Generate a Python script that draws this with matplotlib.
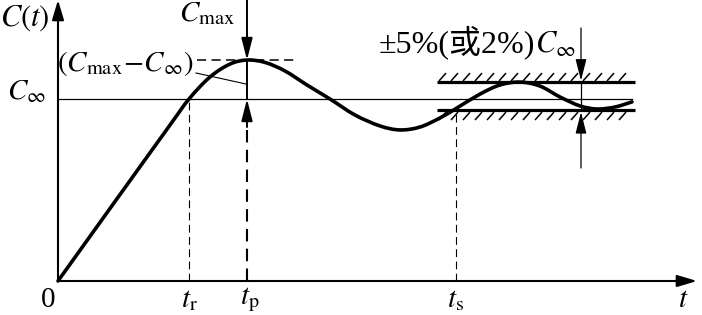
import numpy as np
import matplotlib
matplotlib.use("Agg")
import matplotlib.pyplot as plt
from matplotlib.collections import LineCollection
from matplotlib.path import Path
from matplotlib.patches import PathPatch

plt.rcParams['mathtext.fontset'] = 'stix'
plt.rcParams['font.family'] = ['Liberation Serif', 'Noto Sans CJK SC', 'DejaVu Sans']

# ---- data (t in drawing units, C normalised so that C_inf = 1) ----
t = [0, 56, 112, 131, 152, 172, 189, 207, 227, 249, 272, 297, 322, 342, 362,
     382, 399, 422, 442, 462, 482, 502, 522, 539, 557, 574]
C = [0.000, 0.429, 0.857, 1.000, 1.121, 1.192, 1.214, 1.201, 1.154, 1.077,
     1.000, 0.912, 0.852, 0.830, 0.846, 0.896, 0.951, 1.027, 1.077, 1.093,
     1.071, 1.011, 0.962, 0.945, 0.956, 0.984]
t_r = 131
t_p = 189
t_s = 398
C_inf = 1.0
C_max = 1.214
band_hi = 1.093
band_lo = 0.940
band_t = [379, 577]
tick_labels = ['0', r'$t_{\mathrm{r}}$', r'$t_{\mathrm{p}}$', r'$t_{\mathrm{s}}$', r'$t$']

W, H = 702, 315
fig = plt.figure(figsize=(W / 100, H / 100), dpi=100)
ax = fig.add_axes([0, 0, 1, 1])
ax.set_xlim(-58, 644)
ax.set_ylim((281 - 315) / 182, 281 / 182)
ax.axis('off')

def P(x, y):
    """layout helper: pixel position -> figure fraction"""
    return (x / W, 1 - y / H)

FS = 21
k = 'black'

# axes with arrows
ax.annotate('', xy=(0, ax.get_ylim()[1]), xytext=(0, 0),
            arrowprops=dict(arrowstyle='-|>,head_length=1.0,head_width=0.3',
                            lw=1.5, color=k, shrinkA=0, shrinkB=0, mutation_scale=12))
ax.annotate('', xy=(639, 0), xytext=(0, 0),
            arrowprops=dict(arrowstyle='-|>,head_length=1.0,head_width=0.3',
                            lw=1.5, color=k, shrinkA=0, shrinkB=0, mutation_scale=12))

# C_inf reference line
ax.plot([0, t[-1]], [C_inf, C_inf], color=k, lw=0.9)

# response curve: smooth cubic path through the read points (Catmull-Rom)
pts = np.column_stack([t, C]).astype(float)
ext = np.vstack([pts[0], pts, pts[-1]])
verts = [tuple(pts[0])]
codes = [Path.MOVETO]
for i in range(len(pts) - 1):
    p0, p1, p2, p3 = ext[i], ext[i + 1], ext[i + 2], ext[i + 3]
    c1 = p1 + (p2 - p0) / 6.0
    c2 = p2 - (p3 - p1) / 6.0
    verts += [tuple(c1), tuple(c2), tuple(p2)]
    codes += [Path.CURVE4] * 3
ax.add_patch(PathPatch(Path(verts, codes), fill=False, edgecolor=k, lw=2.6,
                       joinstyle='round', capstyle='round'))

# t_r dashed
ax.plot([t_r, t_r], [0, C_inf], color=k, lw=0.8, dashes=(7, 4))
# t_s dashed
ax.plot([t_s, t_s], [0, band_lo], color=k, lw=0.8, dashes=(7, 4))

# t_p marks
top = ax.get_ylim()[1]
arr = dict(arrowstyle='-|>,head_length=1.1,head_width=0.28', lw=1.4, color=k,
           shrinkA=0, shrinkB=0, mutation_scale=12)
ax.annotate('', xy=(t_p, C_max), xytext=(t_p, top), arrowprops=arr)
ax.plot([t_p, t_p], [C_max, C_inf], color=k, lw=1.4)
low_p = 0.846
ax.annotate('', xy=(t_p, C_inf), xytext=(t_p, low_p), arrowprops=arr)
ax.plot([t_p, t_p], [0, low_p], color=k, lw=1.5, dashes=(6, 3.5))

# C_max dashed horizontal
ax.plot([139, 239], [C_max, C_max], color=k, lw=1.1, dashes=(6, 3.5))
# leader line for (Cmax - Cinf)
ax.plot([138, 188], [(281 - 73) / 182, (281 - 84) / 182], color=k, lw=0.8)

# tolerance band
ax.plot(band_t, [band_hi, band_hi], color=k, lw=2.3, solid_capstyle='butt')
ax.plot(band_t, [band_lo, band_lo], color=k, lw=2.3, solid_capstyle='butt')
hh = 9 / 182
dx = 7
segs = []
for x0 in np.arange(band_t[0] + 2, band_t[1] - dx + 1, 12):
    segs.append([(x0, band_hi + 0.006), (x0 + dx, band_hi + hh)])
    segs.append([(x0, band_lo - hh - 0.006), (x0 + dx, band_lo - 0.012)])
ax.add_collection(LineCollection(segs, colors=k, linewidths=1.1))

# band width arrows
xa = 523
arr2 = dict(arrowstyle='-|>,head_length=1.1,head_width=0.28', lw=0.9, color=k,
            shrinkA=0, shrinkB=0, mutation_scale=12)
ax.annotate('', xy=(xa, band_hi + 0.008), xytext=(xa, (281 - 28) / 182), arrowprops=arr2)
ax.plot([xa, xa], [band_hi, band_lo], color=k, lw=0.9)
ax.annotate('', xy=(xa, band_lo - 0.012), xytext=(xa, (281 - 168) / 182), arrowprops=arr2)

# texts
fig.text(*P(0, 18), r'$C(t)$', fontsize=FS + 1, ha='left', va='center')
fig.text(*P(179, 14), r'$C_{\mathrm{max}}$', fontsize=FS, ha='left', va='center')
fig.text(*P(7, 92), r'$C_{\infty}$', fontsize=FS, ha='left', va='center')
fig.text(*P(57, 63), r'$(C_{\mathrm{max}}\!-\!C_{\infty})$', fontsize=FS, ha='left', va='center')
fig.text(*P(535, 42), '±5%(或2%)', fontsize=FS + 2, ha='right', va='center',
         family=['Liberation Serif', 'Noto Sans CJK SC'])
fig.text(*P(535, 45), r'$C_{\infty}$', fontsize=FS + 1, ha='left', va='center')

# x tick labels
xt = [0, t_r, t_p, t_s, 625]
xoff = [-10, 0, 3, 0, 0]
for xv, lab, o in zip(xt, tick_labels, xoff):
    ax.annotate(lab, xy=(xv, 0), xytext=(o, -19), textcoords='offset pixels',
                ha='center', va='center', fontsize=FS)

fig.savefig('out.png', dpi=100, facecolor='white')
